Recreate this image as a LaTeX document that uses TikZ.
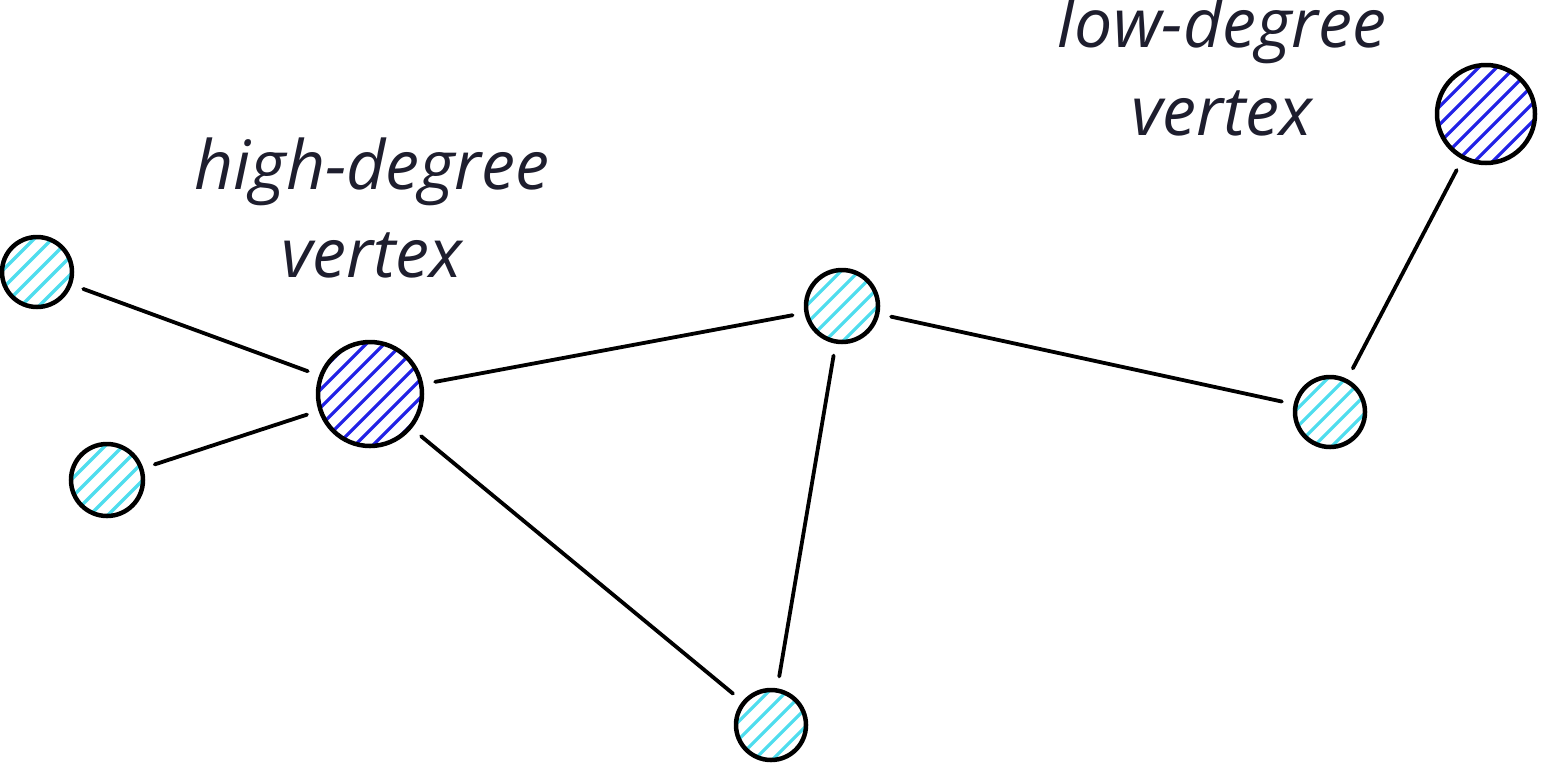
\documentclass[tikz,border=0pt]{standalone}
\usepackage{fontspec}
\setmainfont{Open Sans}
\definecolor{ink}{HTML}{1E1E2E}
\definecolor{lighthatch}{HTML}{4FDDEE}
\definecolor{darkhatch}{HTML}{2222E6}
\begin{document}
\begin{tikzpicture}[x=1pt,y=-1pt,
  vtx/.style={circle,draw=black,line width=4.5pt,inner sep=0pt,minimum size=#1},
  edge/.style={line width=3.8pt,black,line cap=round,shorten >=12pt,shorten <=12pt},
  lbl/.style={text=ink,font=\fontsize{68}{88}\selectfont\itshape,align=center}]
\useasboundingbox (0,0) rectangle (1552,772);
\fill[white] (0,0) rectangle (1552,772);
% hatching helper
\newcommand{\hatchcirc}[4]{% x, y, r, color
  \begin{scope}
    \clip (#1,#2) circle[radius=#3];
    \foreach \k in {-7,...,7}{
      \draw[#4,line width=3.2pt] ({#1+\k*18-80},{#2+80}) -- ({#1+\k*18+80},{#2-80});
    }
  \end{scope}}
\hatchcirc{37}{272}{35}{lighthatch}
\hatchcirc{107}{480}{36}{lighthatch}
\hatchcirc{370}{394}{52}{darkhatch}
\hatchcirc{842}{306}{36}{lighthatch}
\hatchcirc{771}{725}{35}{lighthatch}
\hatchcirc{1330}{412}{35}{lighthatch}
\hatchcirc{1486}{114}{49}{darkhatch}
\node[vtx=70pt] (a) at (37,272) {};
\node[vtx=72pt] (b) at (107,480) {};
\node[vtx=104pt] (h) at (370,394) {};
\node[vtx=72pt] (c) at (842,306) {};
\node[vtx=70pt] (d) at (771,725) {};
\node[vtx=70pt] (e) at (1330,412) {};
\node[vtx=98pt] (l) at (1486,114) {};
\draw[edge] (a) -- (h);
\draw[edge] (b) -- (h);
\draw[edge] (h) -- (c);
\draw[edge] (h) -- (d);
\draw[edge] (c) -- (d);
\draw[edge] (c) -- (e);
\draw[edge] (e) -- (l);
\node[lbl] (t1) at (372,208) {high-degree\\vertex};
\node[lbl] (t2) at (1222,66) {low-degree\\vertex};
\end{tikzpicture}
\end{document}
